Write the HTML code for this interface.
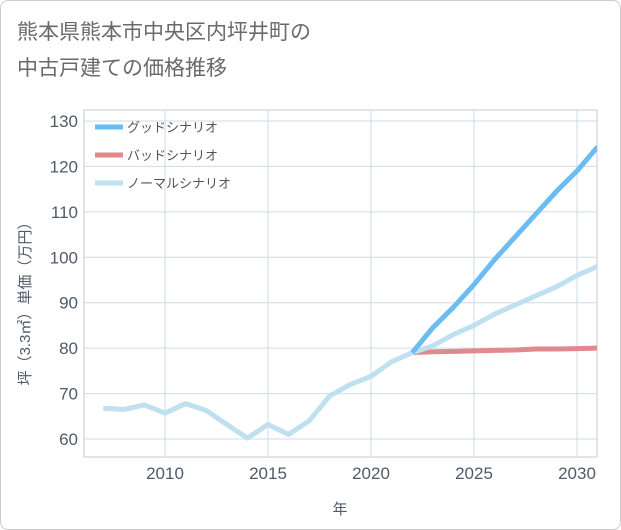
<!DOCTYPE html>
<html><head><meta charset="utf-8"><style>
body{margin:0;background:#fff;}
#wrap{position:relative;width:619px;height:528px;border:1px solid #ccc;border-radius:8px;background:#fff;overflow:hidden;font-family:"Liberation Sans","Noto Sans CJK JP",sans-serif;}
#title{position:absolute;left:16px;top:14px;font-size:21px;line-height:36px;color:#6a6a6a;}
</style></head><body>
<div id="wrap">
<div id="title">熊本県熊本市中央区内坪井町の<br>中古戸建ての価格推移</div>
<svg id="chart" width="621" height="530" style="position:absolute;left:-1px;top:-1px"></svg>
</div>
<script>
const years=[2007,2008,2009,2010,2011,2012,2013,2014,2015,2016,2017,2018,2019,2020,2021,2022,2023,2024,2025,2026,2027,2028,2029,2030,2031];
const normal=[66.8,66.5,67.5,65.7,67.8,66.3,63.2,60.2,63.2,61,64,69.5,72,73.8,77,79,80.5,83,85,87.5,89.5,91.5,93.5,96,98];
const goodYears=[2022,2023,2024,2025,2026,2027,2028,2029,2030,2031];
const good=[79,84.5,89,94,99.5,104.5,109.5,114.5,119,124.3];
const bad=[79,79.2,79.3,79.4,79.5,79.6,79.8,79.8,79.9,80];
const xTicks=[2010,2015,2020,2025,2030];
const yTicks=[60,70,80,90,100,110,120,130];
const legendLabels=["グッドシナリオ","バッドシナリオ","ノーマルシナリオ"];
const legendColors=["#6bbcf2","#e08a8e","#bfe0ee"];
const L=84,R=597,T=110,B=457;
const x=v=>165+(v-2010)*20.6;
const y=v=>439-(v-60)*4.543;
const svg=document.getElementById('chart');
const NS='http://www.w3.org/2000/svg';
function mk(t,a){const e=document.createElementNS(NS,t);for(const k in a)e.setAttribute(k,a[k]);svg.appendChild(e);return e;}
let bg=mk('rect',{x:L,y:T,width:R-L,height:B-T,fill:'#fff',stroke:'#c8c8c8'});


xTicks.forEach(t=>{
 let g=mk('line',{x1:x(t),x2:x(t),y1:T,y2:B,stroke:'#cddbe7'});
 
 
 let l=mk('text',{x:x(t),y:479,'text-anchor':'middle','font-size':17,fill:'#4f5b6b'});l.textContent=t;
 
 
});
yTicks.forEach(t=>{
 let g=mk('line',{x1:L,x2:R,y1:y(t),y2:y(t),stroke:'#cddbe7'});
 
 
 let l=mk('text',{x:78,y:y(t)+6,'text-anchor':'end','font-size':17,fill:'#4f5b6b'});l.textContent=t;
 
 
});
let xt=mk('text',{x:340,y:514,'text-anchor':'middle','font-size':15,fill:'#4f5b6b'});xt.textContent='年';


let yt=mk('text',{x:0,y:0,'text-anchor':'middle','font-size':15,fill:'#4f5b6b',transform:'translate(30,300) rotate(-90)'});yt.textContent='坪（3.3㎡）単価（万円）';


const cp=mk('clipPath',{id:'cp'});const cr=document.createElementNS(NS,'rect');
cr.setAttribute('x',L);cr.setAttribute('y',T);cr.setAttribute('width',R-L);cr.setAttribute('height',B-T);cp.appendChild(cr);
function line(xs,vs,c,name){
 let p=mk('polyline',{points:xs.map((v,i)=>x(v)+','+y(vs[i])).join(' '),fill:'none',stroke:c,'stroke-width':5,'stroke-linejoin':'round','clip-path':'url(#cp)'});
 
 
}
line(goodYears,bad,legendColors[1],'bad-scenario-line');
line(years,normal,legendColors[2],'normal-scenario-line');
line(goodYears,good,legendColors[0],'good-scenario-line');
legendLabels.forEach((s,i)=>{
 let yy=127+i*28;
 let ln=mk('line',{x1:95,x2:123,y1:yy,y2:yy,stroke:legendColors[i],'stroke-width':5});
 
 
 let tx=mk('text',{x:127,y:yy+5,'font-size':13,fill:'#555'});tx.textContent=s;
 
 
});
</script>
</body></html>
